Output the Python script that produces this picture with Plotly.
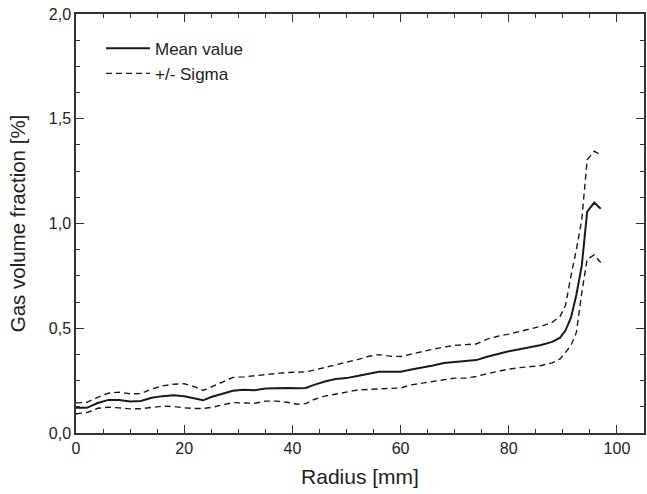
import plotly.graph_objects as go

radius = [0, 2, 4, 6, 8, 10, 12, 14, 16, 18, 20, 22, 23.5, 25, 27, 29, 31, 33, 35, 37, 39, 41,
          42.5, 44, 46, 48, 50, 52, 54, 56, 58, 60, 62, 64, 66, 68, 70, 72, 74, 76, 78, 80, 82,
          84, 86, 88, 89.5, 90.5, 91.5, 92.5, 93.5, 94.5, 95.8, 97]

mean_value = [0.12, 0.12, 0.143, 0.158, 0.157, 0.15, 0.153, 0.168, 0.176, 0.18, 0.175, 0.163,
              0.156, 0.172, 0.187, 0.202, 0.206, 0.204, 0.212, 0.215, 0.215, 0.214, 0.215, 0.23,
              0.246, 0.258, 0.262, 0.272, 0.282, 0.292, 0.292, 0.292, 0.303, 0.312, 0.322, 0.334,
              0.338, 0.342, 0.348, 0.364, 0.378, 0.39, 0.40, 0.41, 0.42, 0.435, 0.455, 0.49,
              0.55, 0.66, 0.80, 1.057, 1.10, 1.07]

upper_sigma = [0.144, 0.146, 0.17, 0.19, 0.195, 0.187, 0.188, 0.21, 0.225, 0.233, 0.235, 0.22,
               0.203, 0.22, 0.245, 0.265, 0.268, 0.273, 0.28, 0.285, 0.289, 0.29, 0.292, 0.30,
               0.313, 0.328, 0.338, 0.35, 0.365, 0.374, 0.367, 0.365, 0.377, 0.39, 0.40, 0.41,
               0.418, 0.422, 0.425, 0.448, 0.462, 0.472, 0.483, 0.497, 0.51, 0.528, 0.557, 0.61,
               0.75, 0.875, 1.02, 1.304, 1.345, 1.328]

lower_sigma = [0.092, 0.097, 0.118, 0.123, 0.12, 0.115, 0.116, 0.122, 0.128, 0.127, 0.12, 0.117,
               0.117, 0.122, 0.132, 0.145, 0.143, 0.142, 0.152, 0.152, 0.147, 0.137, 0.14, 0.16,
               0.176, 0.186, 0.196, 0.205, 0.208, 0.21, 0.21, 0.215, 0.23, 0.238, 0.248, 0.257,
               0.262, 0.262, 0.27, 0.283, 0.295, 0.305, 0.312, 0.316, 0.322, 0.335, 0.354, 0.385,
               0.418, 0.48, 0.67, 0.83, 0.85, 0.814]

FONT = "Liberation Sans, Arial, sans-serif"
INK = "#222222"

fig = go.Figure()
fig.add_trace(go.Scatter(x=radius, y=mean_value, mode="lines", name="Mean value",
                         line=dict(color="#1a1a1a", width=2)))
fig.add_trace(go.Scatter(x=radius, y=upper_sigma, mode="lines", name="+/- Sigma",
                         line=dict(color="#1a1a1a", width=1.4, dash="6px,4px")))
fig.add_trace(go.Scatter(x=radius, y=lower_sigma, mode="lines", name="+/- Sigma",
                         showlegend=False,
                         line=dict(color="#1a1a1a", width=1.4, dash="6px,4px")))

axis_common = dict(
    showline=True, linecolor="#333333", linewidth=1.5, mirror="allticks",
    ticks="inside", ticklen=8, tickwidth=1.3, tickcolor="#333333",
    showgrid=False, zeroline=False,
    tickfont=dict(family=FONT, size=16, color=INK),
)

fig.update_layout(
    width=647, height=494,
    margin=dict(l=76, r=1, t=14, b=61),
    paper_bgcolor="white", plot_bgcolor="white",
    separators=",.",
    font=dict(family=FONT, color=INK),
    showlegend=True,
    legend=dict(x=0.044, y=0.96, xanchor="left", yanchor="top",
                bgcolor="rgba(0,0,0,0)", font=dict(family=FONT, size=17, color=INK),
                tracegroupgap=0, itemwidth=44),
    xaxis=dict(range=[0, 105], tickvals=[0, 20, 40, 60, 80, 100],
               minor=dict(dtick=5, tick0=0, ticks="inside", ticklen=4, tickwidth=1.3,
                          tickcolor="#333333"),
               title=dict(text="Radius [mm]", font=dict(family=FONT, size=21, color=INK),
                          standoff=13),
               **axis_common),
    yaxis=dict(range=[0, 2], dtick=0.5, tick0=0, tickformat=".1f",
               minor=dict(dtick=0.125, tick0=0, ticks="inside", ticklen=4, tickwidth=1.3,
                          tickcolor="#333333"),
               title=dict(text="Gas volume fraction [%]",
                          font=dict(family=FONT, size=20.5, color=INK), standoff=18),
               **axis_common),
)

fig.write_html("out.html")
